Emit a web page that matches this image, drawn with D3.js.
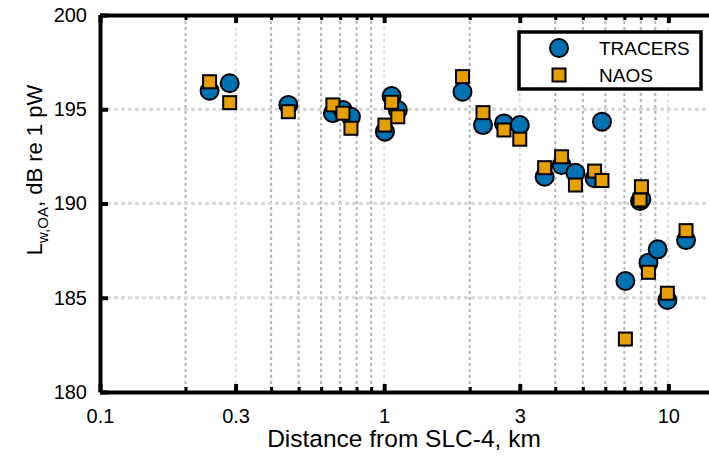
<!DOCTYPE html>
<html>
<head>
<meta charset="utf-8">
<script src="https://cdn.jsdelivr.net/npm/d3@7"></script>
<style>
  body { margin: 0; background: #fff; }
  text { font-family: "Liberation Sans", Arial, sans-serif; }
</style>
</head>
<body>
<svg id="chart" width="709" height="457"></svg>
<script>
// distance in km, source level in dB re 1 pW
var tracersDist = [0.243, 0.286, 0.46, 0.66, 0.716, 0.764, 1.006, 1.062, 1.117, 1.886, 2.227, 2.64, 3.0,
	3.67, 4.21, 4.71, 5.50, 5.84, 7.06, 7.95, 8.04, 8.51, 9.17, 9.92, 11.54];
var tracersLw = [195.98, 196.38, 195.23, 194.79, 194.96, 194.60, 193.81, 195.70, 194.96, 195.93, 194.16, 194.25, 194.16,
	191.42, 192.04, 191.63, 191.34, 194.34, 185.89, 190.13, 190.24, 186.86, 187.57, 184.88, 188.06];
var naosDist = [0.243, 0.286, 0.46, 0.66, 0.716, 0.764, 1.006, 1.062, 1.117, 1.886, 2.227, 2.64, 3.0,
	3.67, 4.21, 4.71, 5.50, 5.84, 7.06, 7.95, 8.04, 8.51, 9.92, 11.54];
var naosLw = [196.46, 195.35, 194.87, 195.23, 194.79, 193.99, 194.16, 195.37, 194.60, 196.73, 194.82, 193.90, 193.41,
	191.90, 192.48, 190.98, 191.72, 191.22, 182.81, 190.19, 190.89, 186.35, 185.24, 188.56];

var xTicks = [0.1, 0.3, 1, 3, 10];
var xMinor = [0.2, 0.4, 0.5, 0.6, 0.7, 0.8, 0.9, 2, 4, 5, 6, 7, 8, 9];
var yTicks = [180, 185, 190, 195, 200];
var seriesNames = ['TRACERS', 'NAOS'];

var svg = d3.select('#chart'),
	margin = {top: 15, right: 0, bottom: 65, left: 100},
	width = +svg.attr('width') - margin.left - margin.right,
	height = +svg.attr('height') - margin.top - margin.bottom;

var blue = '#0072B2', orange = '#E69F00';

var x = d3.scaleLog().domain([0.1, 13.9]).range([0, width]),
	y = d3.scaleLinear().domain([180, 200]).range([height, 0]);

var g = svg.append('g')
	.attr('transform', 'translate(' + margin.left + ',' + margin.top + ')');

// grid: minor vertical lines darker than the major ones
g.selectAll('.gridMinor')
	.data(xMinor)
	.enter().append('line')
	.attr('x1', function(d) { return x(d); })
	.attr('x2', function(d) { return x(d); })
	.attr('y1', 0).attr('y2', height)
	.attr('stroke', '#b4b4b4').attr('stroke-width', 2)
	.attr('stroke-dasharray', '3,3');

g.selectAll('.gridMajor')
	.data(xTicks.slice(1))
	.enter().append('line')
	.attr('x1', function(d) { return x(d); })
	.attr('x2', function(d) { return x(d); })
	.attr('y1', 0).attr('y2', height)
	.attr('stroke', '#dcdcdc').attr('stroke-width', 2)
	.attr('stroke-dasharray', '3,3');

g.selectAll('.gridY')
	.data(yTicks.slice(1, -1))
	.enter().append('line')
	.attr('x1', 0).attr('x2', width)
	.attr('y1', function(d) { return y(d); })
	.attr('y2', function(d) { return y(d); })
	.attr('stroke', '#d8d8d8').attr('stroke-width', 3)
	.attr('stroke-dasharray', '4,3');

// axes
function styleAxis(sel) {
	sel.select('.domain').attr('stroke', '#000').attr('stroke-width', 4);
	sel.selectAll('.tick line').attr('stroke', '#000').attr('stroke-width', 4);
	sel.selectAll('.tick text').attr('fill', '#000').style('font-size', '20px');
}

g.append('g')
	.attr('transform', 'translate(0,' + height + ')')
	.call(d3.axisBottom(x).tickValues(xTicks).tickFormat(d3.format('')).tickSize(-8).tickSizeOuter(0).tickPadding(17))
	.call(styleAxis)
	.attr('font-family', null);

g.append('g')
	.attr('transform', 'translate(0,' + height + ')')
	.call(d3.axisBottom(x).tickValues(xMinor).tickFormat('').tickSize(-5).tickSizeOuter(0))
	.call(styleAxis)
	.call(function(s) { s.select('.domain').remove(); s.selectAll('.tick line').attr('stroke-width', 3); });

g.append('g')
	.call(d3.axisTop(x).tickValues(xTicks).tickFormat('').tickSize(-8).tickSizeOuter(0))
	.call(styleAxis);

g.append('g')
	.call(d3.axisTop(x).tickValues(xMinor).tickFormat('').tickSize(-5).tickSizeOuter(0))
	.call(styleAxis)
	.call(function(s) { s.select('.domain').remove(); s.selectAll('.tick line').attr('stroke-width', 3); });

g.append('g')
	.call(d3.axisLeft(y).tickValues(yTicks).tickSize(-8).tickSizeOuter(0).tickPadding(13))
	.call(styleAxis)
	.attr('font-family', null);

// markers
g.selectAll('.tracers')
	.data(tracersDist)
	.enter().append('circle')
	.attr('cx', function(d) { return x(d); })
	.attr('cy', function(d, i) { return y(tracersLw[i]); })
	.attr('r', 9)
	.attr('fill', blue).attr('stroke', '#000').attr('stroke-width', 2);

g.selectAll('.naos')
	.data(naosDist)
	.enter().append('rect')
	.attr('x', function(d) { return x(d) - 6.5; })
	.attr('y', function(d, i) { return y(naosLw[i]) - 6.5; })
	.attr('width', 13).attr('height', 13)
	.attr('fill', orange).attr('stroke', '#000').attr('stroke-width', 2);

// axis labels
svg.append('text')
	.attr('x', 404).attr('y', 447)
	.attr('text-anchor', 'middle')
	.style('font-size', '24.5px')
	.text('Distance from SLC-4, km');

var yl = svg.append('text')
	.attr('transform', 'translate(42,170) rotate(-90)')
	.attr('text-anchor', 'middle')
	.style('font-size', '22px');
yl.append('tspan').text('L');
yl.append('tspan').attr('dy', 6).style('font-size', '15px').text('w,OA');
yl.append('tspan').attr('dy', -6).text(', dB re 1 pW');

// legend
var lg = svg.append('g');
lg.append('rect')
	.attr('x', 519).attr('y', 32).attr('width', 182).attr('height', 57)
	.attr('fill', '#fff').attr('stroke', '#000').attr('stroke-width', 3.5);
lg.append('circle')
	.attr('cx', 559).attr('cy', 48).attr('r', 9)
	.attr('fill', blue).attr('stroke', '#000').attr('stroke-width', 2);
lg.append('rect')
	.attr('x', 552.5).attr('y', 68.5).attr('width', 13).attr('height', 13)
	.attr('fill', orange).attr('stroke', '#000').attr('stroke-width', 2);
lg.selectAll('.lt')
	.data(seriesNames)
	.enter().append('text')
	.attr('x', 599)
	.attr('y', function(d, i) { return 55 + i * 27; })
	.style('font-size', '19px')
	.text(function(d) { return d; });
</script>
</body>
</html>
